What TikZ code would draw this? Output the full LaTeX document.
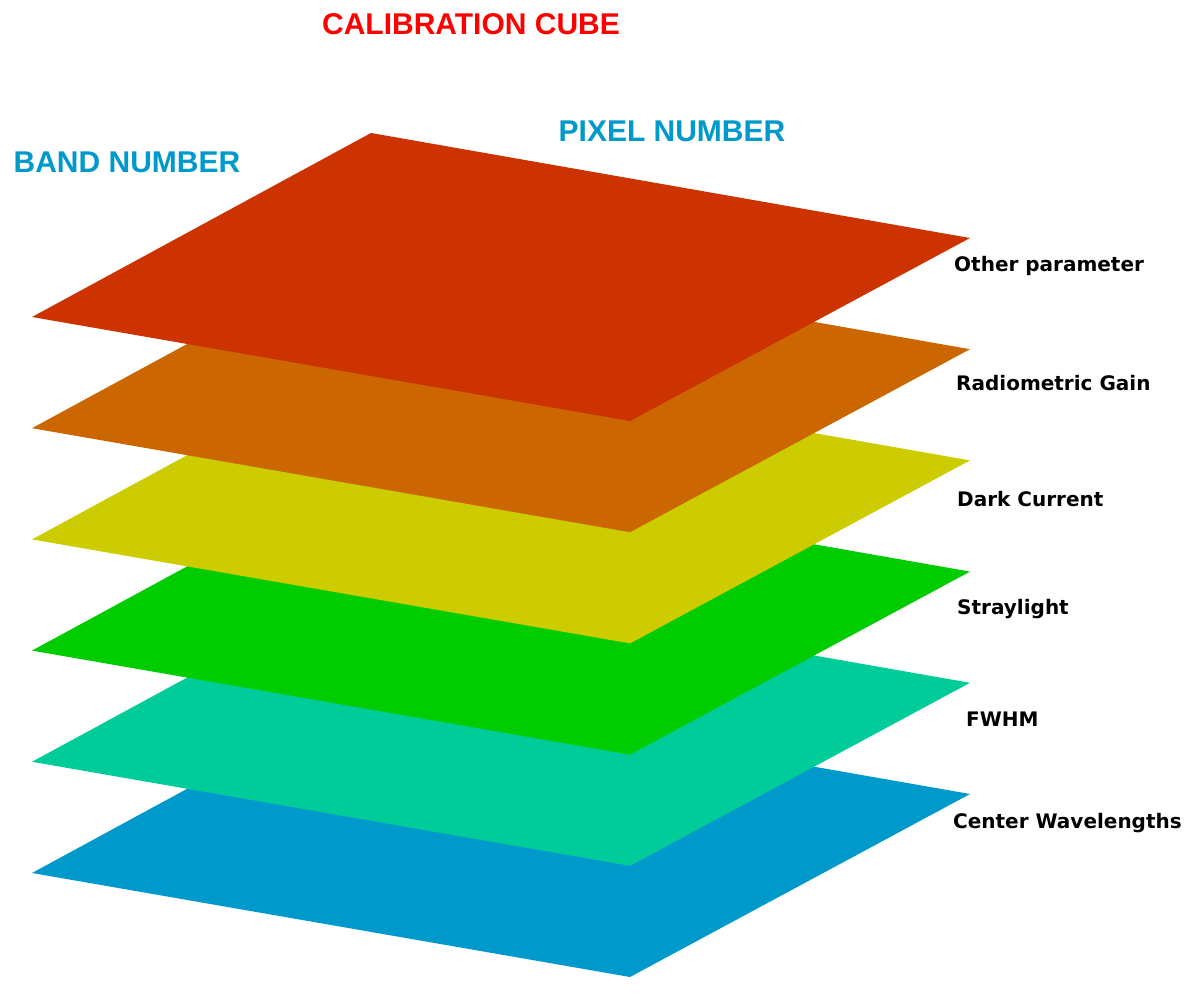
\documentclass[tikz,border=0pt]{standalone}
\usepackage{fontspec}
\setmainfont{Liberation Sans}
\newfontfamily\lblfont{DejaVu Sans}
\definecolor{layred}{HTML}{CC3300}
\definecolor{layorange}{HTML}{CC6600}
\definecolor{layyellow}{HTML}{CCCC00}
\definecolor{laygreen}{HTML}{00CC00}
\definecolor{layteal}{HTML}{00CC99}
\definecolor{layblue}{HTML}{0099CC}
\definecolor{titlered}{HTML}{FF0000}
\definecolor{axisblue}{HTML}{0099CC}
\begin{document}
\begin{tikzpicture}[x=1pt,y=-1pt,
  titletext/.style={font=\fontsize{30}{30}\selectfont\bfseries, text=titlered, inner sep=0pt},
  axistext/.style={font=\fontsize{30}{30}\selectfont\bfseries, text=axisblue, inner sep=0pt},
  lbl/.style={font=\lblfont\fontsize{20}{20}\selectfont\bfseries, text=black, inner sep=0pt, anchor=base west}]
\useasboundingbox (0,0) rectangle (1203,1000);
\foreach \k/\c in {5/layblue,4/layteal,3/laygreen,2/layyellow,1/layorange,0/layred} {
  \fill[\c] (32,{317+111.2*\k}) -- (371,{133+111.2*\k}) -- (970,{238+111.2*\k}) -- (630,{421+111.2*\k}) -- cycle;
}
\node[titletext] (title) at (471,24) {CALIBRATION CUBE};
\node[axistext] (pix) at (672,131) {PIXEL NUMBER};
\node[axistext] (band) at (127,162) {BAND NUMBER};
\node[lbl] (l0) at (954,272) {Other parameter};
\node[lbl] (l1) at (956,391) {Radiometric Gain};
\node[lbl] (l2) at (957,506) {Dark Current};
\node[lbl] (l3) at (957,614) {Straylight};
\node[lbl] (l4) at (966,726) {FWHM};
\node[lbl] (l5) at (953,828) {Center Wavelengths};
\end{tikzpicture}
\end{document}
